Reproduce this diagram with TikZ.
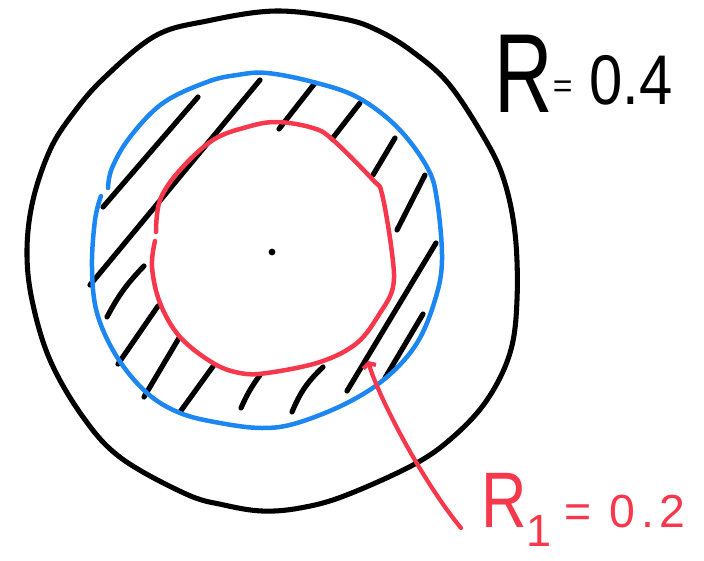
\documentclass[tikz,border=0pt]{standalone}
\usepackage{fontspec}
\setmainfont{Liberation Sans}
\usetikzlibrary{arrows.meta}
\definecolor{blau}{HTML}{1C86F2}
\definecolor{rot}{HTML}{F7374B}
\tikzset{
  aussen/.style={black,line width=3.6pt,line cap=round,line join=round},
  mantel/.style={blau,line width=3.2pt,line cap=round,line join=round},
  kern/.style={rot,line width=3.2pt,line cap=round,line join=round},
  schraff/.style={black,line width=3.7pt,line cap=round},
  pfeil/.style={rot,line width=3pt,line cap=round,-{Straight Barb[length=0.9mm,width=3.3mm]}},
  beschr/.style={inner sep=0pt,anchor=base west},
}

\begin{document}
\begin{tikzpicture}[x=0.025cm,y=-0.025cm]
  \useasboundingbox (0,0) rectangle (704,560);
  % Aussenkreis R = 0.4
  \draw[aussen] plot[smooth cycle,tension=0.6] coordinates {
    (276,11) (344,19) (379,31) (413,52) (448,83) (482,134) (503,177)
    (515,233) (517,300) (510,353) (487,400) (453,437) (413,465)
    (344,496) (300,508) (262,511) (224,505) (186,494) (121,458) (83,417)
    (50,360) (32,300) (27,250) (33,200) (50,150) (72,115) (103,79)
    (155,36) (207,21)};
  % Schraffur zwischen blau und rot
  \draw[schraff] (103,207)--(198,97);
  \draw[schraff] (90,285)--(260,80);
  \draw[schraff] (279,129)--(315,83);
  \draw[schraff] (332,139)--(360,103);
  \draw[schraff] (373,175)--(395,138);
  \draw[schraff] (397,230)--(425,175);
  \draw[schraff] (107,317) to[bend left=8] (144,266);
  \draw[schraff] (118,364)--(158,306);
  \draw[schraff] (144,397)--(179,338);
  \draw[schraff] (180,412)--(214,365);
  \draw[schraff] (241,408) to[bend left=6] (260,375);
  \draw[schraff] (292,412) to[bend left=12] (323,367);
  \draw[schraff] (347,391)--(436,243);
  \draw[schraff] (385,378)--(423,314);
  % mittlerer Kreis (blau)
  \draw[mantel] plot[smooth,tension=0.6] coordinates {
    (108,188) (112,168) (130,137) (163,103) (207,82) (237,75) (267,73)
    (313,82) (357,97) (397,127) (427,167) (437,200) (442,260) (435,300)
    (417,343) (387,377) (347,403) (297,423) (262,428) (220,423)
    (180,413) (147,393) (117,357) (97,313) (92,267) (95,220) (101,196)};
  % innerer Kreis R1 = 0.2 (rot)
  \draw[kern] plot[smooth,tension=0.6] coordinates {
    (156,232) (160,200) (180,170) (213,140) (247,127) (277,122)
    (313,128) (333,140) (373,180) (382,194) (392,253) (393,287)
    (380,313) (357,343) (320,362) (267,373) (240,373) (213,363)
    (180,337) (160,303) (152,267) (155,241)};
  % Mittelpunkt
  \fill[black] (272,252) circle (2.4pt);
  % Beschriftung
  \node[beschr] (raussen) at (494,112)
    {\scalebox{0.72}[1]{\fontsize{80}{80}\selectfont R}%
     \raisebox{10pt}{\fontsize{24}{24}\selectfont=}\hspace{12pt}%
     \raisebox{5pt}{\scalebox{0.85}[1]{\fontsize{50}{50}\selectfont 0.4}}};
  \node[beschr,rot] (rinnen) at (481,527)
    {\scalebox{0.8}[1]{\fontsize{56}{56}\selectfont R}%
     \raisebox{-14pt}{\fontsize{32}{32}\selectfont 1}\hspace{9pt}%
     {\fontsize{33}{33}\selectfont\addfontfeature{LetterSpace=12}= 0.2}};
  % Pfeil zum roten Kreis
  \coordinate (fuss) at (461,528);
  \coordinate (spitze) at (368,361);
  \draw[pfeil] (fuss) .. controls (420,478) and (378,395) .. (spitze);
\end{tikzpicture}
\end{document}
